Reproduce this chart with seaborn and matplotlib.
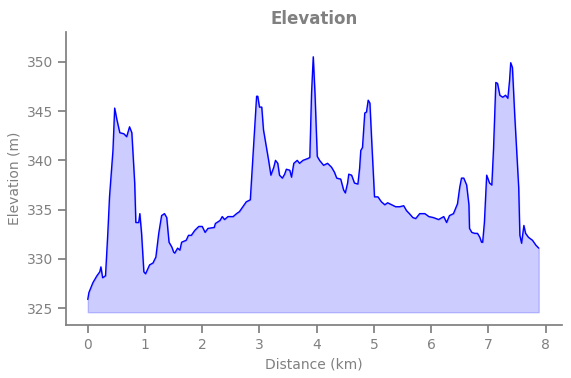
import numpy as np
import pandas as pd
import seaborn as sns
import matplotlib
matplotlib.use("Agg")
import matplotlib.pyplot as plt

# Elevation profile (km, m)
distance_km = [
    0.00, 0.02, 0.09, 0.16, 0.21, 0.23, 0.26, 0.31, 0.35, 0.38, 0.44, 0.47,
    0.51, 0.56, 0.63, 0.68, 0.73, 0.77, 0.82, 0.84, 0.89, 0.91, 0.94, 0.98,
    1.01, 1.08, 1.14, 1.19, 1.24, 1.29, 1.34, 1.38, 1.42, 1.47, 1.50, 1.52,
    1.57, 1.61, 1.64, 1.72, 1.76, 1.81, 1.87, 1.94, 2.00, 2.05, 2.10, 2.21,
    2.23, 2.31, 2.35, 2.39, 2.45, 2.54, 2.60, 2.65, 2.71, 2.77, 2.84, 2.95,
    2.97, 3.00, 3.04, 3.07, 3.16, 3.20, 3.25,
    3.28, 3.32, 3.35, 3.40, 3.44, 3.47, 3.53, 3.56, 3.60, 3.66, 3.70, 3.76,
    3.85, 3.88, 3.91, 3.94, 3.97, 4.01, 4.05, 4.12, 4.19, 4.26, 4.31, 4.35,
    4.42, 4.47, 4.50, 4.54, 4.56, 4.61, 4.66, 4.72, 4.75, 4.77, 4.80, 4.84,
    4.87, 4.90, 4.93, 4.96, 5.01, 5.07, 5.13, 5.19, 5.24, 5.31, 5.38, 5.45,
    5.52, 5.57, 5.62, 5.68, 5.73, 5.80, 5.89, 5.96, 6.04, 6.13, 6.22, 6.27,
    6.32, 6.39, 6.46, 6.50, 6.53, 6.57, 6.62, 6.66, 6.67, 6.71, 6.76, 6.81,
    6.85, 6.88, 6.90, 6.93, 6.97, 7.02, 7.06, 7.09, 7.13, 7.16, 7.20, 7.25,
    7.30, 7.34, 7.37, 7.39, 7.42, 7.46, 7.53, 7.55, 7.58, 7.62, 7.65, 7.70,
    7.77, 7.83, 7.88,
]
elevation_m = [
    325.9, 326.6, 327.6, 328.3, 328.7, 329.2, 328.1, 328.3, 332.6, 336.3, 341.0, 345.3,
    344.1, 342.8, 342.7, 342.4, 343.4, 342.8, 337.7, 333.7, 333.7, 334.6, 332.6, 328.7,
    328.5, 329.4, 329.6, 330.2, 332.6, 334.4, 334.6, 334.2, 331.7, 331.2, 330.7, 330.6,
    331.1, 330.9, 331.7, 331.9, 332.4, 332.4, 332.9, 333.3, 333.3, 332.7, 333.1, 333.2,
    333.6, 333.9, 334.3, 334.0, 334.3, 334.3, 334.6, 334.8, 335.3, 335.8, 336.0, 346.5,
    346.5, 345.4, 345.4, 343.1, 340.0, 338.5, 339.3,
    340.0, 339.7, 338.5, 338.2, 338.6, 339.1, 339.0, 338.3, 339.7, 340.0, 339.7, 340.0,
    340.2, 340.3, 346.8, 350.5, 346.8, 340.4, 340.0, 339.5, 339.7, 339.3, 338.8, 338.2,
    338.1, 337.0, 336.7, 337.7, 338.6, 338.5, 337.7, 337.6, 339.2, 341.0, 341.3, 344.8,
    344.9, 346.1, 345.8, 342.1, 336.3, 336.3, 335.8, 335.5, 335.7, 335.5, 335.3, 335.3,
    335.4, 334.9, 334.6, 334.2, 334.1, 334.6, 334.6, 334.3, 334.2, 334.0, 334.3, 333.7,
    334.4, 334.6, 335.6, 337.3, 338.2, 338.2, 337.5, 335.5, 333.1, 332.7, 332.6, 332.6,
    332.2, 331.7, 331.7, 333.7, 338.5, 337.7, 337.5, 341.2, 347.9, 347.8, 346.6, 346.4,
    346.6, 346.3, 348.1, 349.9, 349.4, 344.6, 337.2, 332.4, 331.6, 333.4, 332.6, 332.2,
    331.9, 331.4, 331.1,
]
fill_base = 324.6

df = pd.DataFrame({"distance": distance_km, "elevation": elevation_m})

sns.set_theme(style="ticks")
grey = "#808080"
plt.rcParams.update({
    "axes.edgecolor": grey,
    "xtick.color": grey,
    "ytick.color": grey,
    "axes.labelcolor": grey,
    "text.color": grey,
})
plt.rcParams["font.family"] = ["DejaVu Sans"]

fig = plt.figure(figsize=(5.71, 3.78), dpi=100)
ax = fig.add_axes([0.1156, 0.140, 0.868, 0.775])

ax.fill_between(df["distance"], fill_base, df["elevation"],
                color="blue", alpha=0.2, linewidth=1)
sns.lineplot(data=df, x="distance", y="elevation", ax=ax,
             color="blue", linewidth=1)

ax.set_xlim(-0.38, 8.28)
ax.set_ylim(323.3, 353.0)
ax.set_xticks(range(0, 9))
ax.set_yticks([325, 330, 335, 340, 345, 350])
ax.tick_params(labelsize=10, colors=grey)
ax.set_xlabel("Distance (km)", fontsize=10, color=grey)
ax.set_ylabel("Elevation (m)", fontsize=10, color=grey)
ax.set_title("Elevation", fontsize=12, fontweight="bold", color=grey)
sns.despine(ax=ax)

fig.savefig("out.png", dpi=100)
